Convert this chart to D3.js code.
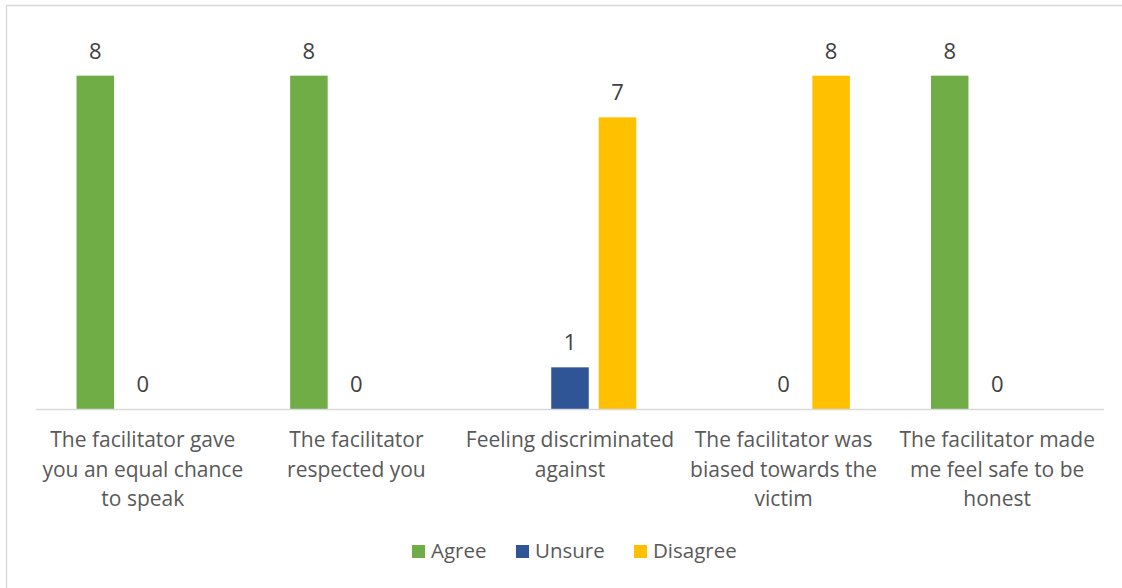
<!DOCTYPE html>
<html>
<head>
<meta charset="utf-8">
<script src="https://cdn.jsdelivr.net/npm/d3@7"></script>
<style>
  html, body { margin: 0; padding: 0; background: #fff; }
  svg { display: block; }
  text { font-family: "Open Sans", "Noto Sans", sans-serif; }
</style>
</head>
<body>
<svg id="chart" width="1122" height="588"></svg>
<script>
// Survey responses per statement
const categories = [
  "The facilitator gave you an equal chance to speak",
  "The facilitator respected you",
  "Feeling discriminated against",
  "The facilitator was biased towards the victim",
  "The facilitator made me feel safe to be honest"
];
// Wrapped category labels, as the axis shows them
const categoryLines = [
  ["The facilitator gave", "you an equal chance", "to speak"],
  ["The facilitator", "respected you"],
  ["Feeling discriminated", "against"],
  ["The facilitator was", "biased towards the", "victim"],
  ["The facilitator made", "me feel safe to be", "honest"]
];
const seriesNames = ["Agree", "Unsure", "Disagree"];
// null = no response recorded for that option
const agree    = [8, 8, null, null, 8];
const unsure   = [0, 0, 1, 0, 0];
const disagree = [null, null, 7, 8, null];
const seriesColors = ["#70AD47", "#2F5597", "#FFC000"];
const yDomainMax = 9;

const seriesValues = [agree, unsure, disagree];
const rows = [];
categories.forEach((c, i) => {
  seriesNames.forEach((s, j) => {
    const v = seriesValues[j][i];
    if (v !== null) rows.push({ category: c, series: s, value: v, color: seriesColors[j] });
  });
});

const svg = d3.select("#chart");

// chart frame
svg.append("rect")
  .attr("x", 6.5).attr("y", 5.5)
  .attr("width", 1130).attr("height", 600)
  .attr("fill", "none").attr("stroke", "#D9D9D9").attr("stroke-width", 1.5);

const plot = { left: 36, right: 1104, top: 34, bottom: 409 };

const x0 = d3.scaleBand().domain(categories).range([plot.left, plot.right]).padding(0);
const x1 = d3.scaleBand().domain(seriesNames).range([0, x0.bandwidth()])
  .paddingInner(0.21).paddingOuter(0.854);
const y = d3.scaleLinear().domain([0, yDomainMax]).range([plot.bottom, plot.top]);

// bars
svg.append("g").selectAll("rect")
  .data(rows)
  .join("rect")
  .attr("x", d => x0(d.category) + x1(d.series))
  .attr("y", d => y(d.value))
  .attr("width", x1.bandwidth())
  .attr("height", d => y(0) - y(d.value))
  .attr("fill", d => d.color);

// category axis line
svg.append("line")
  .attr("x1", plot.left).attr("x2", plot.right)
  .attr("y1", y(0) + 0.5).attr("y2", y(0) + 0.5)
  .attr("stroke", "#D9D9D9").attr("stroke-width", 1.5);

// value labels
svg.append("g").selectAll("text")
  .data(rows)
  .join("text")
  .attr("x", d => x0(d.category) + x1(d.series) + x1.bandwidth() / 2)
  .attr("y", d => y(d.value) - 17)
  .attr("text-anchor", "middle")
  .attr("font-size", 22)
  .attr("fill", "#404040")
  .text(d => d.value);

// category labels
const catG = svg.append("g");
categories.forEach((c, i) => {
  const t = catG.append("text")
    .attr("x", x0(c) + x0.bandwidth() / 2)
    .attr("y", 447)
    .attr("text-anchor", "middle")
    .attr("font-size", 21)
    .attr("fill", "#595959");
  categoryLines[i].forEach((line, k) => {
    t.append("tspan")
      .attr("x", x0(c) + x0.bandwidth() / 2)
      .attr("dy", k === 0 ? 0 : 29.5)
      .text(line);
  });
});

// legend
const legendX = [412, 516, 634];
const legend = svg.append("g");
seriesNames.forEach((s, j) => {
  legend.append("rect")
    .attr("x", legendX[j]).attr("y", 545)
    .attr("width", 13).attr("height", 13)
    .attr("fill", seriesColors[j]);
  legend.append("text")
    .attr("x", legendX[j] + 19).attr("y", 558)
    .attr("font-size", 20.5)
    .attr("fill", "#595959")
    .text(s);
});
</script>
</body>
</html>
